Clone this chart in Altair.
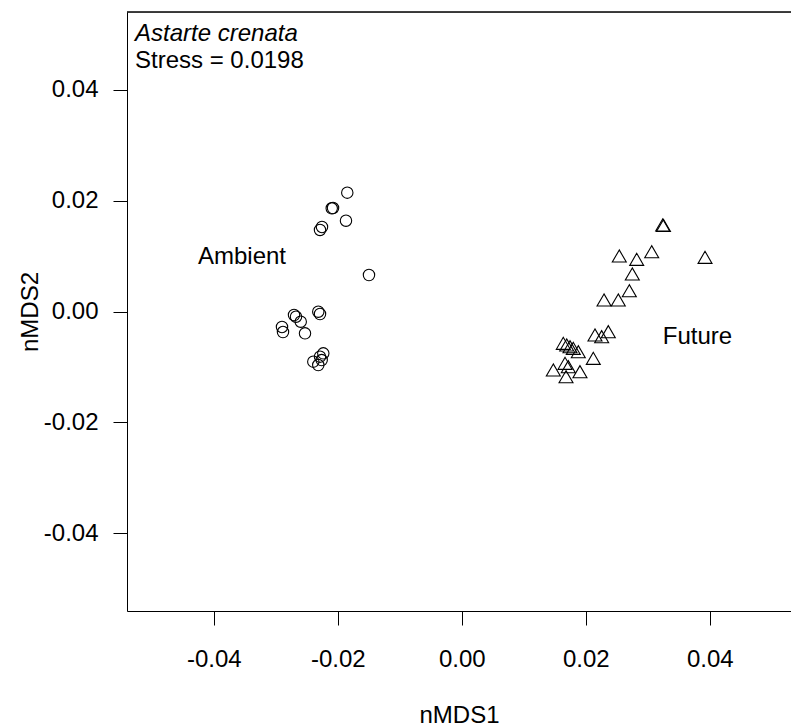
import altair as alt
import pandas as pd

# Ambient (circles)
amb_x = [-0.01847, -0.02098, -0.02077, -0.01868, -0.02287, -0.02255, -0.01497,
         -0.02315, -0.02287, -0.02706, -0.02674, -0.02598, -0.02900, -0.02884,
         -0.02529, -0.02395, -0.02287, -0.02234, -0.02315, -0.02260]
amb_y = [0.02142, 0.01861, 0.01866, 0.01637, 0.01470, 0.01524, 0.00658,
         -0.00004, -0.00045, -0.00063, -0.00094, -0.00184, -0.00279, -0.00370,
         -0.00393, -0.00905, -0.00815, -0.00754, -0.00965, -0.00875]

# Future (triangles)
fut_x = [0.03240, 0.03253, 0.03923, 0.03063, 0.02540, 0.02821, 0.02750, 0.02702,
         0.02294, 0.02524, 0.02363, 0.02148, 0.02256, 0.02121, 0.01637, 0.01692,
         0.01745, 0.01798, 0.01879, 0.01476, 0.01665, 0.01718, 0.01906, 0.01681]
fut_y = [0.01560, 0.01551, 0.00977, 0.01078, 0.01001, 0.00941, 0.00676, 0.00375,
         0.00207, 0.00207, -0.00364, -0.00424, -0.00454, -0.00844, -0.00573, -0.00604,
         -0.00635, -0.00664, -0.00725, -0.01055, -0.00934, -0.00995, -0.01085, -0.01176]

group_labels = ["Ambient", "Future"]
label_x = [-0.03545, 0.03802]
label_y = [0.00851, -0.00591]

tick_values = [-0.04, -0.02, 0.0, 0.02, 0.04]
species = "Astarte crenata"
stress_text = "Stress = 0.0198"

FONT = "Liberation Sans"
W, H = 664, 599
xdom = [-0.054, -0.054 + W / 6200]
ydom = [-0.054, 0.054]

amb = pd.DataFrame({"x": amb_x, "y": amb_y})
fut = pd.DataFrame({"x": fut_x, "y": fut_y})
labs = pd.DataFrame({"x": label_x, "y": label_y, "t": group_labels})

lab_expr = "datum.value < 0 ? '-' + format(-datum.value, '.2f') : format(datum.value, '.2f')"

xenc = alt.X("x:Q", scale=alt.Scale(domain=xdom, nice=False, zero=False),
             axis=alt.Axis(values=tick_values, labelExpr=lab_expr, title="nMDS1",
                           grid=False, tickSize=14, labelPadding=41, labelFontSize=24,
                           labelFont=FONT, labelColor="black", tickColor="black",
                           domainColor="black", titleFont=FONT, titleFontSize=24,
                           titleFontWeight="normal", titleColor="black",
                           titleY=111, titleBaseline="alphabetic",
                           labelBaseline="alphabetic", labelFlush=False))
yenc = alt.Y("y:Q", scale=alt.Scale(domain=ydom, nice=False, zero=False),
             axis=alt.Axis(values=tick_values, labelExpr=lab_expr, title="nMDS2",
                           grid=False, tickSize=14, labelPadding=15, labelFontSize=24,
                           labelFont=FONT, labelColor="black", tickColor="black",
                           domainColor="black", titleFont=FONT, titleFontSize=24,
                           titleFontWeight="normal", titleColor="black",
                           titleX=-90, titleY=H / 2, titleAngle=-90,
                           titleBaseline="alphabetic", titleAlign="center",
                           labelFlush=False))

circles = alt.Chart(amb).mark_point(shape="circle", size=130, filled=False,
                                    color="black", strokeWidth=1.1, opacity=1).encode(x=xenc, y=yenc)
tris = alt.Chart(fut).mark_point(shape="triangle-up", size=195, filled=False,
                                 color="black", strokeWidth=1.1, opacity=1).encode(x="x:Q", y="y:Q")
texts = alt.Chart(labs).mark_text(font=FONT, fontSize=24, color="black", align="center",
                                  baseline="alphabetic").encode(x="x:Q", y="y:Q", text="t:N")
top_rule = alt.Chart(labs).mark_rule(color="black", strokeWidth=1).encode(
    x=alt.value(0), x2=alt.value(W), y=alt.value(0))
sp = alt.Chart(pd.DataFrame({"t": [species]})).mark_text(
    font=FONT, fontSize=24, fontStyle="italic", color="black", align="left",
    baseline="alphabetic").encode(x=alt.value(8), y=alt.value(29), text="t:N")
st = alt.Chart(pd.DataFrame({"t": [stress_text]})).mark_text(
    font=FONT, fontSize=24, color="black", align="left",
    baseline="alphabetic").encode(x=alt.value(8), y=alt.value(56), text="t:N")

chart = alt.layer(circles, tris, texts, top_rule, sp, st).properties(
    width=W, height=H,
    autosize=alt.AutoSizeParams(type="none"),
    padding={"left": 127, "top": 12, "right": 0, "bottom": 116},
).configure_view(stroke=None).configure(background="white")

chart.save("out.html", embed_options={"renderer": "svg", "actions": False})
